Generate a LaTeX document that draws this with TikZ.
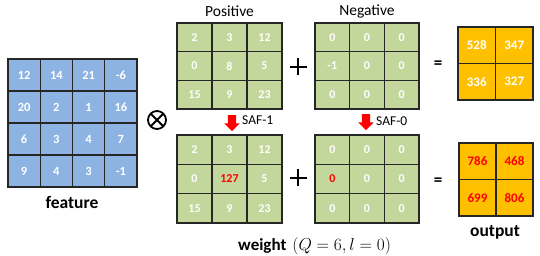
\documentclass[tikz,border=0pt]{standalone}
\usepackage{fontspec}
\setmainfont{Carlito}
\usetikzlibrary{shapes.arrows}
\definecolor{featblue}{HTML}{8DB3E2}
\definecolor{wgreen}{HTML}{C3D69B}
\definecolor{outorange}{HTML}{FFC000}
\definecolor{gridline}{HTML}{262626}
\newcommand\mygrid[8]{%
  \foreach \v [count=\k from 0] in {#8} {
    \pgfmathtruncatemacro\cc{mod(\k,#6)}
    \pgfmathtruncatemacro\rr{div(\k,#6)}
    \node[cellbox, #7, minimum width=#4pt, minimum height=#5pt, anchor=north west]
      (#1-\rr-\cc) at ({#2+\cc*#4},{#3+\rr*#5}) {\v};
  }}
\tikzset{
  cellbox/.style={draw=gridline, line width=1.1pt, inner sep=0pt, outer sep=0pt, text=white, font=\bfseries\fontsize{12}{14}\selectfont},
  featcell/.style={fill=featblue, font=\bfseries\fontsize{12.5}{14}\selectfont},
  wcell/.style={fill=wgreen},
  outcell/.style={fill=outorange, font=\bfseries\fontsize{13}{15}\selectfont},
  biglabel/.style={font=\bfseries\fontsize{17.5}{20}\selectfont, inner sep=0pt},
  headlabel/.style={font=\fontsize{15.5}{18}\selectfont, inner sep=0pt},
  saflabel/.style={font=\fontsize{13.5}{16}\selectfont, inner sep=0pt, anchor=west},
  faultarrow/.style={single arrow, fill=red, draw=none, inner sep=4pt, single arrow head extend=3.5pt, minimum height=16pt, shape border rotate=270},
  opline/.style={line width=2.2pt, line cap=butt},
  eqsign/.style={font=\bfseries\fontsize{17}{20}\selectfont, inner sep=0pt},
}
\begin{document}
\begin{tikzpicture}[x=1pt,y=-1pt]
\useasboundingbox (0,0) rectangle (540,256);
% feature
\mygrid{feat}{8}{59}{32.25}{32}{4}{featcell}{12,14,21,-6,20,2,1,16,6,3,4,7,9,4,3,-1}
\node[biglabel] (featlbl) at (72,202) {feature};
% operator otimes
\node[circle, draw=black, line width=1.8pt, minimum size=18pt, inner sep=0pt, outer sep=0pt] (otimes) at (157,120) {};
\draw[line width=1.8pt] (otimes.north east) -- (otimes.south west);
\draw[line width=1.8pt] (otimes.north west) -- (otimes.south east);
% weight grids
\mygrid{post}{177}{23}{35}{28.67}{3}{wcell}{2,3,12,0,8,5,15,9,23}
\mygrid{negt}{315}{23}{34.67}{28.67}{3}{wcell}{0,0,0,-1,0,0,0,0,0}
\mygrid{posb}{177}{135}{35}{29.33}{3}{wcell}{2,3,12,0,{\color{red}127},5,15,9,23}
\mygrid{negb}{315}{135}{34.67}{29.33}{3}{wcell}{0,0,0,{\color{red}0},0,0,0,0,0}
\node[headlabel] (poslbl) at (229.5,11) {Positive};
\node[headlabel] (neglbl) at (367,11) {Negative};
% plus signs
\coordinate (plusa) at (298,67);
\coordinate (plusb) at (298,178);
\foreach \p in {plusa,plusb}{
  \draw[opline] ([xshift=-8.5pt]\p) -- ([xshift=8.5pt]\p);
  \draw[opline] ([yshift=-8.5pt]\p) -- ([yshift=8.5pt]\p);
}
% fault arrows
\node[faultarrow] (arrA) at (232,121) {};
\node[saflabel] (safA) at (242,120) {SAF-1};
\node[faultarrow] (arrB) at (366,120) {};
\node[saflabel] (safB) at (376,121) {SAF-0};
\node[inner sep=0pt, anchor=base west] (wlbl) at (238,250) {{\bfseries\fontsize{17}{20}\selectfont weight}\hspace{6pt}{\fontsize{16}{18}\selectfont $(Q=6,l=0)$}};
% equals
\node[eqsign] (eqa) at (438,65) {=};
\node[eqsign] (eqb) at (438,182) {=};
% outputs
\mygrid{outt}{458}{27}{37.5}{36.5}{2}{outcell}{528,347,336,327}
\mygrid{outb}{459}{143}{37}{36.5}{2}{outcell}{{\color{red}786},{\color{red}468},{\color{red}699},{\color{red}806}}
\node[biglabel] (outlbl) at (495,232) {output};
\end{tikzpicture}
\end{document}
